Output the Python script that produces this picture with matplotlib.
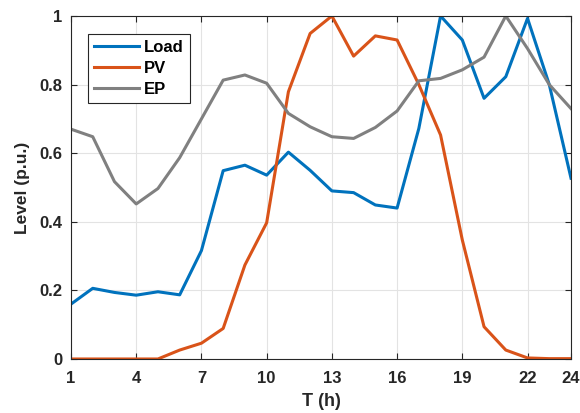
import matplotlib
matplotlib.use("Agg")
import matplotlib.pyplot as plt

hours = list(range(1, 25))
load = [0.16, 0.206, 0.194, 0.186, 0.196, 0.187, 0.316, 0.549, 0.565, 0.536, 0.603, 0.55,
        0.49, 0.485, 0.449, 0.44, 0.672, 1.0, 0.93, 0.76, 0.823, 0.993, 0.80, 0.527]
pv = [0.0, 0.0, 0.0, 0.0, 0.0, 0.026, 0.046, 0.089, 0.274, 0.397, 0.779, 0.949,
      1.0, 0.883, 0.942, 0.93, 0.80, 0.653, 0.347, 0.094, 0.026, 0.003, 0.001, 0.001]
ep = [0.67, 0.648, 0.517, 0.452, 0.497, 0.587, 0.70, 0.813, 0.828, 0.804, 0.716, 0.677,
      0.648, 0.643, 0.675, 0.723, 0.811, 0.818, 0.843, 0.88, 1.0, 0.905, 0.80, 0.73]
xticks = [1, 4, 7, 10, 13, 16, 19, 22, 24]
yticks = [0, 0.2, 0.4, 0.6, 0.8, 1.0]
yticklabels = ["0", "0.2", "0.4", "0.6", "0.8", "1"]

plt.rcParams['font.family'] = ['Liberation Sans', 'DejaVu Sans']
fig = plt.figure(figsize=(5.8, 4.13), dpi=100)
ax = fig.add_axes([0.1224, 0.1308, 0.8621, 0.8305])

ax.plot(hours, load, color='#0072BD', lw=2.2, label='Load')
ax.plot(hours, pv, color='#D95319', lw=2.2, label='PV')
ax.plot(hours, ep, color='#808080', lw=2.2, label='EP')

ax.set_xlim(1, 24)
ax.set_ylim(0, 1)
ax.set_xticks(xticks)
ax.set_xticklabels([str(t) for t in xticks])
ax.set_yticks(yticks)
ax.set_yticklabels(yticklabels)
ax.grid(True, color='#e3e3e3', lw=0.8)
ax.set_axisbelow(True)
ax.tick_params(direction='in', top=True, right=True, length=4, width=0.8,
               labelsize=12, colors='#262626', pad=6)
ax.tick_params(axis='x', pad=9)
for lab in ax.get_xticklabels() + ax.get_yticklabels():
    lab.set_fontweight('bold')
for sp in ax.spines.values():
    sp.set_color('#262626')
    sp.set_linewidth(0.8)

ax.set_xlabel('T (h)', fontsize=13, fontweight='bold', color='#262626', labelpad=5)
ax.set_ylabel('Level (p.u.)', fontsize=12.5, fontweight='bold', color='#262626', labelpad=7)

leg = ax.legend(loc='upper left', bbox_to_anchor=(0.034, 0.9475),
                prop={'weight': 'bold', 'size': 12}, fancybox=False, framealpha=1,
                edgecolor='#262626', handlelength=2.7, handletextpad=0.3,
                labelspacing=0.35, borderpad=0.38, borderaxespad=0)
leg.get_frame().set_linewidth(0.8)

fig.savefig('out.png', dpi=100)
